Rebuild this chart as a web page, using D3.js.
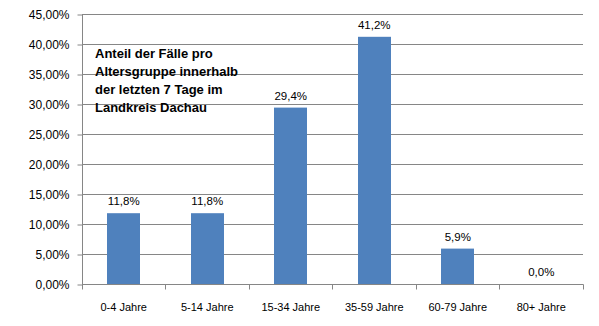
<!DOCTYPE html>
<html>
<head>
<meta charset="utf-8">
<script src="https://cdn.jsdelivr.net/npm/d3@7"></script>
<style>
  html, body { margin: 0; padding: 0; background: #fff; }
  svg { display: block; }
  text { font-family: "Liberation Sans", Arial, sans-serif; fill: #000; }
</style>
</head>
<body>
<svg id="chart" width="599" height="326"></svg>
<script>
const categories = ["0-4 Jahre", "5-14 Jahre", "15-34 Jahre", "35-59 Jahre", "60-79 Jahre", "80+ Jahre"];
const values = [11.8, 11.8, 29.4, 41.2, 5.9, 0.0];
const valueLabels = ["11,8%", "11,8%", "29,4%", "41,2%", "5,9%", "0,0%"];
const yTicks = [0, 5, 10, 15, 20, 25, 30, 35, 40, 45];
const titleLines = ["Anteil der Fälle pro", "Altersgruppe innerhalb", "der letzten 7 Tage im", "Landkreis Dachau"];

(function () {
const svg = d3.select("#chart");
const mL = 82, mR = 583, mT = 14, mB = 284;
const grid = "#868686";
const barColor = "#4F81BD";

const x = d3.scaleBand().domain(categories).range([mL, mR]).paddingInner(0.6).paddingOuter(0.3);
const y = d3.scaleLinear().domain([0, 45]).range([mB, mT]);

// gridlines
svg.append("g").selectAll("line").data(yTicks.filter(d => d > 0)).join("line")
  .attr("x1", mL).attr("x2", mR)
  .attr("y1", d => Math.round(y(d)) + 0.5).attr("y2", d => Math.round(y(d)) + 0.5)
  .attr("stroke", grid).attr("stroke-width", 1);

// title text
svg.append("g").selectAll("text").data(titleLines).join("text")
  .attr("x", 95).attr("y", (d, i) => 58 + i * 18)
  .style("font-size", "13px").style("font-weight", "bold")
  .text(d => d);

// bars
svg.append("g").selectAll("rect").data(values).join("rect")
  .attr("x", (d, i) => Math.round(x(categories[i])))
  .attr("width", Math.round(x.bandwidth()))
  .attr("y", d => y(d))
  .attr("height", d => y(0) - y(d))
  .attr("fill", barColor);

// value labels
svg.append("g").selectAll("text").data(values).join("text")
  .attr("x", (d, i) => x(categories[i]) + x.bandwidth() / 2)
  .attr("y", d => y(d) - 8)
  .attr("text-anchor", "middle")
  .style("font-size", "11.5px")
  .text((d, i) => valueLabels[i]);

// y axis
const yAxis = d3.axisLeft(y).tickValues(yTicks).tickSize(5).tickPadding(8)
  .tickFormat(d => d3.format(".2f")(d).replace(".", ",") + "%");
const gy = svg.append("g").attr("transform", `translate(${mL + 0.5},0.5)`).call(yAxis);
gy.select(".domain").attr("stroke", grid).attr("d", `M0,${mT}V${mB}`);
gy.selectAll(".tick line").attr("stroke", grid);
gy.selectAll(".tick text").style("font-size", "12px").style("font-family", "Liberation Sans, Arial, sans-serif").attr("fill", "#000");

// x axis
const gx = svg.append("g").attr("transform", `translate(0,${mB + 0.5})`);
gx.append("line").attr("x1", mL).attr("x2", mR + 0.5).attr("stroke", grid);
const boundaries = categories.map(c => x(c) - x.step() * x.paddingOuter()).concat([mR]);
gx.selectAll("line.t").data(boundaries).join("line").attr("class", "t")
  .attr("x1", d => Math.round(d) + 0.5).attr("x2", d => Math.round(d) + 0.5)
  .attr("y1", 0).attr("y2", 5).attr("stroke", grid);
gx.selectAll("text").data(categories).join("text")
  .attr("x", d => x(d) + x.bandwidth() / 2)
  .attr("y", 26)
  .attr("text-anchor", "middle")
  .style("font-size", "11px")
  .text(d => d);
})();
</script>
</body>
</html>
